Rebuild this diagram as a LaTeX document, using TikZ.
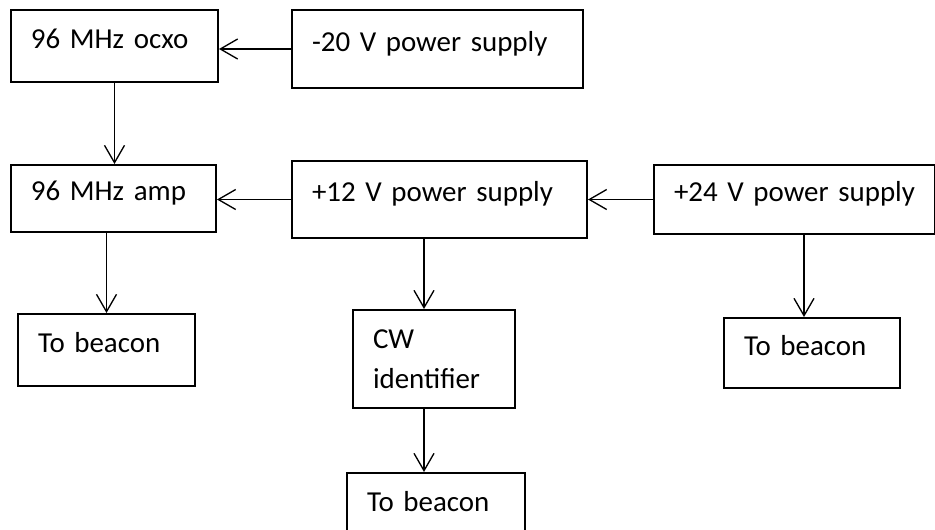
\documentclass[tikz,border=0pt]{standalone}
\usepackage{fontspec}
\setmainfont{Carlito}
\usetikzlibrary{arrows.meta}
\newcommand{\boxfont}{\fontsize{21.7pt}{30pt}\selectfont\spaceskip=0.17em plus 0.05em\relax}
\tikzset{
  blk/.style={draw, line width=1.5pt, anchor=north west, align=left,
    inner xsep=15pt, inner ysep=0pt, font=\boxfont},
  blkone/.style={blk, text height=14pt, text depth=10.5pt},
  arr/.style={-{Straight Barb[length=13pt,width=15pt]}, line width=1pt}
}

\begin{document}
\begin{tikzpicture}[x=0.75pt,y=-0.75pt]
\useasboundingbox (0,0) rectangle (935,529);
\node[blkone,text width=125.25pt,minimum height=54pt] (ocxo) at (10,9) {96 MHz ocxo};
  \node[blkone,text width=188.25pt,minimum height=58.5pt] (m20) at (291,9) {-20 V power supply};
  \node[blkone,text width=123.75pt,minimum height=50.25pt] (amp) at (10,164) {96 MHz amp};
  \node[blkone,text width=191.25pt,minimum height=57.75pt] (p12) at (291,160) {+12 V power supply};
  \node[blkone,text width=180.75pt,minimum height=51.75pt] (p24) at (653,164) {+24 V power supply};
  \node[blkone,text width=102.75pt,minimum height=54pt] (beacon1) at (17,313) {To beacon};
  \node[blk,text width=91.5pt,minimum height=73.5pt] (cw) at (352,309) {CW\\identifier};
  \node[blkone,text width=103.5pt,minimum height=54pt] (beacon3) at (346,472) {To beacon};
  \node[blkone,text width=102pt,minimum height=52.5pt] (beacon2) at (723,317) {To beacon};
\draw[arr] (m20.west) to (m20.west -| ocxo.east);
\draw[arr] (ocxo.south) to (ocxo.south |- amp.north);
\draw[arr] (p12.west) to (p12.west -| amp.east);
\draw[arr] (p24.west) to (p24.west -| p12.east);
\draw[arr] (beacon1.north |- amp.south) to (beacon1.north);
\draw[arr] ([xshift=-7.5pt]cw.north |- p12.south) to ([xshift=-7.5pt]cw.north);
\draw[arr] ([xshift=-7.5pt]cw.south) to ([xshift=-7.5pt]cw.south |- beacon3.north);
\draw[arr] ([xshift=-6pt]beacon2.north |- p24.south) to ([xshift=-6pt]beacon2.north);
\end{tikzpicture}
\end{document}
